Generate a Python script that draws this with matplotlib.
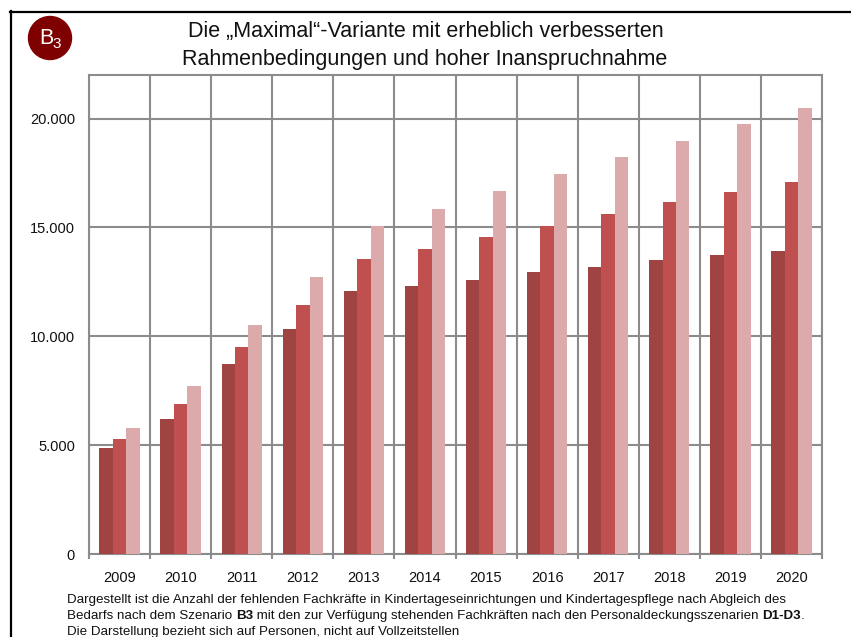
import matplotlib
matplotlib.use('Agg')
import matplotlib.pyplot as plt
from matplotlib.patches import Circle

years = ['2009', '2010', '2011', '2012', '2013', '2014', '2015', '2016', '2017', '2018', '2019', '2020']
d1 = [4880, 6190, 8740, 10320, 12100, 12330, 12600, 12930, 13170, 13490, 13720, 13910]
d2 = [5300, 6900, 9530, 11450, 13530, 14000, 14560, 15080, 15630, 16150, 16620, 17070]
d3 = [5800, 7720, 10540, 12700, 15060, 15860, 16660, 17440, 18240, 18980, 19740, 20480]
yticks = [0, 5000, 10000, 15000, 20000]
ylabels = ['0', '5.000', '10.000', '15.000', '20.000']

plt.rcParams['font.family'] = ['Liberation Sans', 'DejaVu Sans']

W, H = 851, 637
fig = plt.figure(figsize=(W / 100, H / 100), dpi=100)
ax = fig.add_axes([89 / W, 1 - 554 / H, (822 - 89) / W, (554 - 75) / H])

grau = '#8c8c8c'
x = list(range(len(years)))
b = 0.22
ax.bar([i - b for i in x], d1, b, color='#a04343', zorder=3)
ax.bar(x, d2, b, color='#c0504f', zorder=3)
ax.bar([i + b for i in x], d3, b, color='#dcaaaa', zorder=3)

ax.set_xlim(-0.5, 11.5)
ax.set_ylim(0, 22000)
ax.set_yticks(yticks)
ax.set_yticklabels(ylabels, fontsize=10.5, color='#111111')
ax.set_xticks([i - 0.5 for i in range(13)])
ax.set_xticklabels([])
ax.set_xticks(x, minor=True)
ax.set_xticklabels(years, minor=True, fontsize=10.5, color='#111111')
ax.tick_params(axis='x', which='major', length=3.5, width=1.5, color=grau)
ax.tick_params(axis='x', which='minor', length=0, pad=12)
ax.tick_params(axis='y', length=0, pad=10)
ax.grid(True, which='major', color=grau, linewidth=1.5, zorder=1)
ax.set_axisbelow(True)
for s in ax.spines.values():
    s.set_color(grau)
    s.set_linewidth(1.5)

# Rahmen links und oben
fig.add_artist(plt.Line2D([10.5 / W, 10.5 / W], [0, 1 - 11 / H], color='black', lw=1.6))
fig.add_artist(plt.Line2D([10 / W, 1], [1 - 11.5 / H, 1 - 11.5 / H], color='black', lw=1.6))

# Titel
fig.text(425.5 / W, 1 - 31.5 / H, 'Die „Maximal“-Variante mit erheblich verbesserten', fontsize=15.5,
         ha='center', va='center', color='#111111')
fig.text(425 / W, 1 - 59.5 / H, 'Rahmenbedingungen und hoher Inanspruchnahme', fontsize=15.5,
         ha='center', va='center', color='#111111')

# Kennzeichen B3
bg = fig.add_axes([0, 0, 1, 1], zorder=5)
bg.set_xlim(0, W)
bg.set_ylim(H, 0)
bg.axis('off')
bg.add_patch(Circle((50, 38), 21.5, color='#7f0000'))
bg.text(39, 38, 'B', fontsize=15.5, color='white', va='center', ha='left')
bg.text(52.5, 44, '3', fontsize=11, color='white', va='center', ha='left')

# Fussnote
fs = 9.6
renderer = fig.canvas.get_renderer()


def text_row(x_px, y_px, parts):
    # Textstuecke hintereinander setzen, damit nur einzelne Woerter fett werden
    for s, weight in parts:
        t = fig.text(x_px / W, 1 - y_px / H, s, fontsize=fs, va='center', fontweight=weight, color='#111111')
        x_px = t.get_window_extent(renderer).x1


text_row(67, 600, [('Dargestellt ist die Anzahl der fehlenden Fachkräfte in Kindertageseinrichtungen und Kindertagespflege nach Abgleich des', 'normal')])
text_row(67, 616, [('Bedarfs nach dem Szenario ', 'normal'), ('B3', 'bold'),
                   (' mit den zur Verfügung stehenden Fachkräften nach den Personaldeckungsszenarien ', 'normal'),
                   ('D1-D3', 'bold'), ('.', 'normal')])
text_row(67, 632, [('Die Darstellung bezieht sich auf Personen, nicht auf Vollzeitstellen', 'normal')])

fig.savefig('out.png', dpi=100)
